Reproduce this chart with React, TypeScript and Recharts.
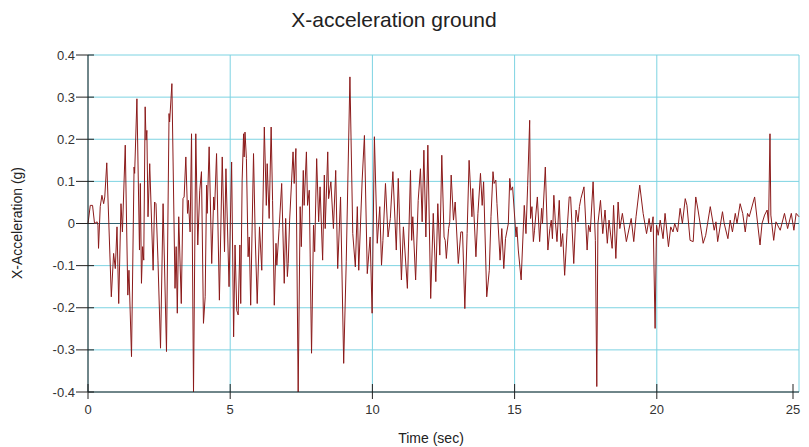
import React from 'react';
import { LineChart, Line, XAxis, YAxis, CartesianGrid, ReferenceLine } from 'recharts';

// ground acceleration trace, [time (sec), acceleration (g)]
const strongMotion0to5: [number, number][] = [
    [0.0, 0], [0.08, 0.043], [0.16, 0.043], [0.23, 0], [0.32, 0.004], [0.35, -0.004], [0.37, -0.059],
    [0.43, 0.04], [0.49, 0.067], [0.55, 0.047], [0.59, 0.063], [0.66, 0.144], [0.82, -0.174], [0.9, -0.071],
    [0.96, -0.107], [1.02, -0.008], [1.08, -0.19], [1.16, 0.047], [1.21, -0.02], [1.31, 0.186], [1.4, -0.17],
    [1.44, -0.111], [1.53, -0.316], [1.62, 0.134], [1.64, 0.119], [1.72, 0.296], [1.81, -0.063], [1.84, 0.095],
    [1.88, -0.142], [1.92, -0.055], [1.96, -0.087], [2.01, 0.277], [2.04, 0.198], [2.07, 0.221], [2.11, 0.016],
    [2.17, 0.142], [2.29, -0.111], [2.34, 0.051], [2.39, 0.047], [2.46, -0.087], [2.55, -0.296], [2.64, 0.047],
    [2.76, -0.304], [2.85, 0.261], [2.87, 0.241], [2.95, 0.332], [3.06, -0.154], [3.1, -0.055], [3.14, -0.213],
    [3.19, 0.016], [3.28, -0.19], [3.34, 0.059], [3.38, 0.063], [3.44, 0.158], [3.5, 0.024], [3.53, 0.055],
    [3.59, -0.02], [3.64, 0.213], [3.71, -0.4], [3.79, 0.213], [3.86, -0.051], [3.93, 0.079], [3.99, 0.123],
    [4.06, -0.237], [4.12, -0.174], [4.17, 0.091], [4.19, 0.024], [4.26, 0.182], [4.35, -0.095], [4.42, 0.063],
    [4.45, 0.032], [4.52, 0.166], [4.62, -0.182], [4.72, 0.158], [4.8, -0.067], [4.85, 0.13], [4.96, -0.15],
];

const strongMotion5to10: [number, number][] = [
    [5.05, 0.146], [5.12, -0.269], [5.17, -0.051], [5.23, -0.206], [5.28, -0.217], [5.34, -0.051], [5.37, -0.19],
    [5.42, 0.103], [5.47, 0.213], [5.49, 0.158], [5.52, 0.217], [5.57, 0.154], [5.63, -0.079], [5.67, -0.032],
    [5.72, -0.194], [5.82, 0.166], [5.88, -0.032], [5.95, -0.19], [6.03, -0.008], [6.11, -0.111], [6.2, 0.229],
    [6.27, 0.043], [6.3, 0.142], [6.37, 0.012], [6.44, 0.229], [6.49, 0.055], [6.55, -0.194], [6.61, -0.047],
    [6.64, -0.099], [6.72, -0.012], [6.81, 0.095], [6.9, -0.142], [6.95, 0.012], [7.01, -0.126], [7.04, -0.095],
    [7.09, 0.008], [7.21, 0.17], [7.25, 0.095], [7.31, 0.178], [7.39, -0.4], [7.46, 0.04], [7.5, -0.055],
    [7.57, 0.126], [7.6, 0.043], [7.68, 0.17], [7.72, 0.043], [7.78, 0.079], [7.86, -0.308], [7.93, -0.004],
    [7.97, -0.067], [8.04, 0.154], [8.11, 0.004], [8.16, 0.087], [8.25, -0.087], [8.31, 0.115], [8.34, -0.012],
    [8.43, 0.17], [8.46, 0.059], [8.54, 0.099], [8.63, -0.012], [8.71, 0.126], [8.78, -0.107], [8.88, 0.063],
    [8.99, -0.332], [9.08, -0.091], [9.21, 0.348], [9.31, -0.024], [9.4, -0.103], [9.47, 0.04], [9.52, -0.111],
    [9.64, 0.103], [9.72, 0.209], [9.82, -0.119], [9.92, -0.032], [9.99, -0.213],
];

const strongMotion10to15: [number, number][] = [
    [10.07, 0.206], [10.17, -0.047], [10.26, 0.04], [10.32, -0.099], [10.37, -0.04], [10.46, 0.095],
    [10.55, -0.032], [10.63, 0.012], [10.72, 0.123], [10.84, -0.063], [10.91, 0.107], [11.02, -0.134],
    [11.09, -0.008], [11.23, -0.154], [11.34, 0.126], [11.38, -0.04], [11.42, 0.016], [11.52, -0.134],
    [11.61, 0.055], [11.69, 0.13], [11.75, 0.004], [11.81, 0.174], [11.88, -0.032], [11.95, 0.186],
    [12.05, -0.178], [12.14, 0.024], [12.23, -0.138], [12.3, 0.047], [12.37, -0.075], [12.44, 0.162],
    [12.52, -0.032], [12.56, -0.04], [12.6, -0.083], [12.68, -0.012], [12.72, 0.004], [12.77, 0.115],
    [12.85, 0.008], [12.91, 0.051], [13.02, -0.095], [13.11, -0.02], [13.17, -0.02], [13.25, -0.202],
    [13.33, -0.024], [13.4, 0.15], [13.5, 0.016], [13.53, 0.083], [13.64, -0.079], [13.71, 0.024],
    [13.8, 0.119], [13.86, 0.043], [13.91, 0.099], [14.02, -0.174], [14.11, -0.111], [14.17, 0.016],
    [14.24, 0.123], [14.28, 0.095], [14.34, 0.103], [14.38, 0.047], [14.49, -0.087], [14.55, -0.012],
    [14.62, -0.107], [14.68, -0.036], [14.78, 0], [14.83, 0.107], [14.87, 0.079], [14.93, 0.087],
];

const coda15to20: [number, number][] = [
    [15.05, -0.032], [15.08, -0.008], [15.13, -0.063], [15.23, -0.134], [15.34, 0.043], [15.4, -0.024],
    [15.46, 0.091], [15.53, 0.245], [15.56, 0.012], [15.61, 0.04], [15.66, -0.043], [15.7, -0.016],
    [15.8, 0.063], [15.88, -0.043], [15.95, 0.036], [15.98, 0], [16.08, 0.134], [16.17, -0.063],
    [16.24, -0.012], [16.29, 0.008], [16.33, -0.036], [16.38, 0.067], [16.43, 0.008], [16.49, -0.043],
    [16.57, 0.055], [16.63, -0.055], [16.69, -0.024], [16.76, -0.123], [16.85, -0.012], [16.92, 0.063],
    [16.97, 0.063], [17.08, -0.095], [17.16, 0.032], [17.23, 0.004], [17.28, 0.04], [17.33, 0.059],
    [17.44, 0.087], [17.55, -0.063], [17.6, -0.004], [17.66, -0.02], [17.76, 0.099], [17.84, -0.04],
    [17.89, -0.387], [17.93, 0], [18.02, 0.055], [18.1, -0.024], [18.18, 0.032], [18.26, -0.047],
    [18.32, 0.008], [18.43, -0.059], [18.48, 0.043], [18.56, -0.083], [18.64, 0.051], [18.7, -0.012],
    [18.79, 0.024], [18.93, -0.043], [19.1, 0.012], [19.19, -0.043], [19.27, 0.016], [19.4, 0.091],
    [19.52, 0.024], [19.64, -0.024], [19.73, 0.012], [19.79, -0.02], [19.87, 0.016], [19.94, -0.249],
    [19.99, -0.004],
];

const coda20to25: [number, number][] = [
    [20.05, -0.028], [20.12, 0.008], [20.22, -0.036], [20.29, 0.024], [20.41, -0.055], [20.49, -0.008],
    [20.57, -0.02], [20.63, 0], [20.73, -0.02], [20.82, 0.036], [20.9, 0], [21.0, 0.059], [21.06, 0.043],
    [21.17, -0.04], [21.28, -0.043], [21.37, 0.063], [21.45, 0.032], [21.63, -0.047], [21.72, -0.028],
    [21.88, 0.04], [22.02, -0.016], [22.08, 0.004], [22.14, -0.043], [22.31, 0.028], [22.37, 0],
    [22.5, -0.036], [22.58, 0.008], [22.66, -0.02], [22.76, 0.024], [22.82, 0], [22.93, 0.047],
    [23.02, 0.024], [23.11, -0.02], [23.19, 0.024], [23.25, 0.016], [23.44, 0.063], [23.63, -0.051],
    [23.7, 0], [23.79, 0.02], [23.88, 0.032], [23.93, 0], [23.98, 0.213], [24.01, 0.02], [24.11, -0.04],
    [24.19, 0.004], [24.34, -0.016], [24.49, 0.024], [24.6, -0.012], [24.73, 0.024], [24.82, -0.016],
    [24.9, 0.024], [25.0, 0.016],
];

const timeTicks = [0, 5, 10, 15, 20, 25];
const accelTicks = [-0.4, -0.3, -0.2, -0.1, 0, 0.1, 0.2, 0.3, 0.4];

const data = [...strongMotion0to5, ...strongMotion5to10, ...strongMotion10to15, ...coda15to20, ...coda20to25].map(
    ([t, g]) => ({ t, g })
);

const FONT = '"Liberation Sans", Arial, sans-serif';
const AXIS = '#222';
const GRID = '#7dd3e2';

const YTick = ({ x, y, payload }: any) => (
    <g>
        <line x1={x - 12} x2={x + 6} y1={y} y2={y} stroke={AXIS} />
        <text x={x - 13} y={y} dy={4.5} textAnchor="end" fontSize={13} fill="#333" fontFamily={FONT}>
            {payload.value}
        </text>
    </g>
);

const XTick = ({ x, y, payload }: any) => (
    <g>
        <line x1={x} x2={x} y1={y - 8} y2={y + 7} stroke={AXIS} />
        <text x={x} y={y + 22} textAnchor="middle" fontSize={13} fill="#333" fontFamily={FONT}>
            {payload.value}
        </text>
    </g>
);

export default function App() {
    return (
        <div style={{ position: 'relative', width: 793, height: 439 }}>
            {/* the last x tick label hangs past the chart edge, as in the original */}
            <style>{`.recharts-wrapper, .recharts-surface { overflow: visible !important; }`}</style>
            <LineChart width={793} height={439} data={data} margin={{ top: 47, right: 2, bottom: 0, left: 0 }}>
                <CartesianGrid stroke={GRID} strokeWidth={1} />
                <XAxis
                    type="number"
                    dataKey="t"
                    domain={[0, 25]}
                    ticks={timeTicks}
                    height={55}
                    axisLine={{ stroke: AXIS }}
                    tickLine={false}
                    tickSize={0}
                    tickMargin={0}
                    tick={<XTick />}
                />
                <YAxis
                    type="number"
                    domain={[-0.4, 0.4]}
                    ticks={accelTicks}
                    allowDataOverflow
                    width={80}
                    axisLine={{ stroke: AXIS }}
                    tickLine={false}
                    tickSize={0}
                    tickMargin={0}
                    tick={<YTick />}
                />
                <ReferenceLine y={0} stroke="#2f5f6e" strokeWidth={1} />
                <Line
                    type="linear"
                    dataKey="g"
                    stroke="#8b1a1a"
                    strokeWidth={1}
                    dot={false}
                    isAnimationActive={false}
                />
            </LineChart>
            <svg
                width={793}
                height={439}
                style={{ position: 'absolute', left: 0, top: 0, pointerEvents: 'none', overflow: 'visible' }}
            >
                <text x={386} y={19} textAnchor="middle" fontSize={21} fill="#222" fontFamily={FONT}>
                    X-acceleration ground
                </text>
                <text
                    x={10}
                    y={215}
                    transform="rotate(-90 10 215)"
                    textAnchor="middle"
                    dominantBaseline="middle"
                    fontSize={14}
                    fill="#222"
                    fontFamily={FONT}
                >
                    X-Acceleration (g)
                </text>
                <text x={423} y={435} textAnchor="middle" fontSize={14} fill="#222" fontFamily={FONT}>
                    Time (sec)
                </text>
            </svg>
        </div>
    );
}
